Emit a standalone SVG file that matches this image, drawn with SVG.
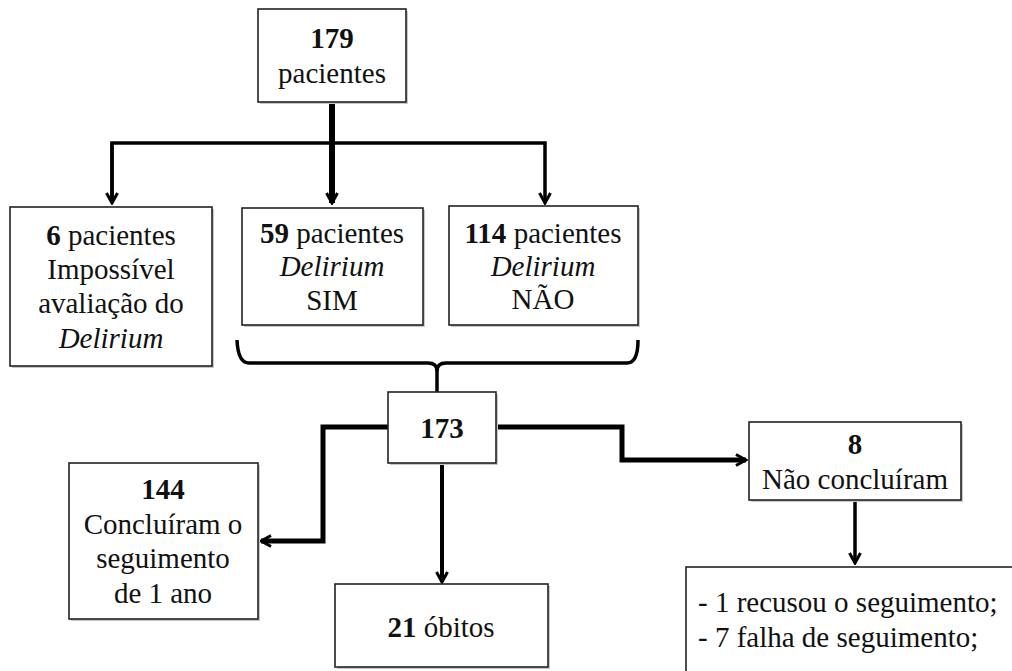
<svg xmlns="http://www.w3.org/2000/svg" width="1012" height="671" viewBox="0 0 1012 671">
<defs>
<marker id="ah" viewBox="0 0 14 14" refX="12" refY="7" markerWidth="14" markerHeight="14" markerUnits="userSpaceOnUse" orient="auto">
<path d="M2,1.5 L12,7 L2,12.5" fill="none" stroke="#000" stroke-width="3" stroke-linejoin="miter"/>
</marker>
<style>
.box{fill:#fff;stroke:#222;stroke-width:1.6}
.sh{fill:#c8c8c8}
text{font-family:'Liberation Serif','Times New Roman',serif;font-size:29px;fill:#111}
.c{text-anchor:middle}
.b{font-weight:bold}
.i{font-style:italic}
.ln{fill:none;stroke:#000;stroke-linejoin:miter}
</style>
</defs>
<rect width="1012" height="671" fill="#fff"/>
<g id="connectors">
<line class="ln" x1="332" y1="102" x2="332" y2="203" stroke-width="6" marker-end="url(#ah)"/>
<path class="ln" d="M112,203 L112,143 L545,143 L545,203" stroke-width="3.5" marker-end="url(#ah)"/>
<path class="ln" d="M112,143 L112,203" stroke-width="3.5" marker-end="url(#ah)"/>
<path class="ln" d="M237,340 Q238,363 249,363 L428,363 Q437,363 437,371 Q437,363 446,363 L627,363 Q638,363 638,340" stroke-width="3.5"/>
<line class="ln" x1="437" y1="366" x2="437" y2="392" stroke-width="3.5"/>
<path class="ln" d="M388,427 L323,427 L323,541 L261,541" stroke-width="5" marker-end="url(#ah)"/>
<line class="ln" x1="442" y1="463" x2="442" y2="582" stroke-width="4" marker-end="url(#ah)"/>
<path class="ln" d="M496,427 L622,427 L622,460 L746,460" stroke-width="5" marker-end="url(#ah)"/>
<line class="ln" x1="855" y1="500" x2="855" y2="563" stroke-width="3.5" marker-end="url(#ah)"/>
</g>
<g id="n179">
<rect class="sh" x="260" y="11" width="148" height="93"/>
<rect class="box" x="258" y="9" width="148" height="93"/>
<text class="c b" x="332" y="48">179</text>
<text class="c" x="332" y="83">pacientes</text>
</g>
<g id="n6">
<rect class="sh" x="12" y="209" width="202" height="159"/>
<rect class="box" x="10" y="207" width="202" height="159"/>
<text class="c" x="111" y="245"><tspan class="b">6</tspan> pacientes</text>
<text class="c" x="111" y="279">Impossível</text>
<text class="c" x="111" y="313">avaliação do</text>
<text class="c i" x="111" y="348">Delirium</text>
</g>
<g id="n59">
<rect class="sh" x="244" y="210" width="181" height="117"/>
<rect class="box" x="242" y="208" width="181" height="117"/>
<text class="c" x="332" y="243"><tspan class="b">59</tspan> pacientes</text>
<text class="c i" x="332" y="276">Delirium</text>
<text class="c" x="332" y="310">SIM</text>
</g>
<g id="n114">
<rect class="sh" x="451" y="208" width="189" height="119"/>
<rect class="box" x="449" y="206" width="189" height="119"/>
<text class="c" x="543" y="243"><tspan class="b">114</tspan> pacientes</text>
<text class="c i" x="543" y="276">Delirium</text>
<text class="c" x="543" y="309">NÃO</text>
</g>
<g id="n173">
<rect class="sh" x="390" y="394" width="108" height="71"/>
<rect class="box" x="388" y="392" width="108" height="71"/>
<text class="c b" x="442" y="438">173</text>
</g>
<g id="n144">
<rect class="sh" x="71" y="465" width="189" height="156"/>
<rect class="box" x="69" y="463" width="189" height="156"/>
<text class="c b" x="163" y="499">144</text>
<text class="c" x="163" y="534">Concluíram o</text>
<text class="c" x="163" y="568">seguimento</text>
<text class="c" x="163" y="603">de 1 ano</text>
</g>
<g id="n21">
<rect class="sh" x="337" y="586" width="213" height="83"/>
<rect class="box" x="335" y="584" width="213" height="83"/>
<text class="c" x="441" y="637"><tspan class="b">21</tspan> óbitos</text>
</g>
<g id="n8">
<rect class="sh" x="751" y="424" width="212" height="78"/>
<rect class="box" x="749" y="422" width="212" height="78"/>
<text class="c b" x="855" y="454">8</text>
<text class="c" x="855" y="489">Não concluíram</text>
</g>
<g id="nlist">
<rect class="box" x="686" y="567" width="340" height="120"/>
<text x="698" y="612">- 1 recusou o seguimento;</text>
<text x="698" y="647">- 7 falha de seguimento;</text>
</g>
</svg>
